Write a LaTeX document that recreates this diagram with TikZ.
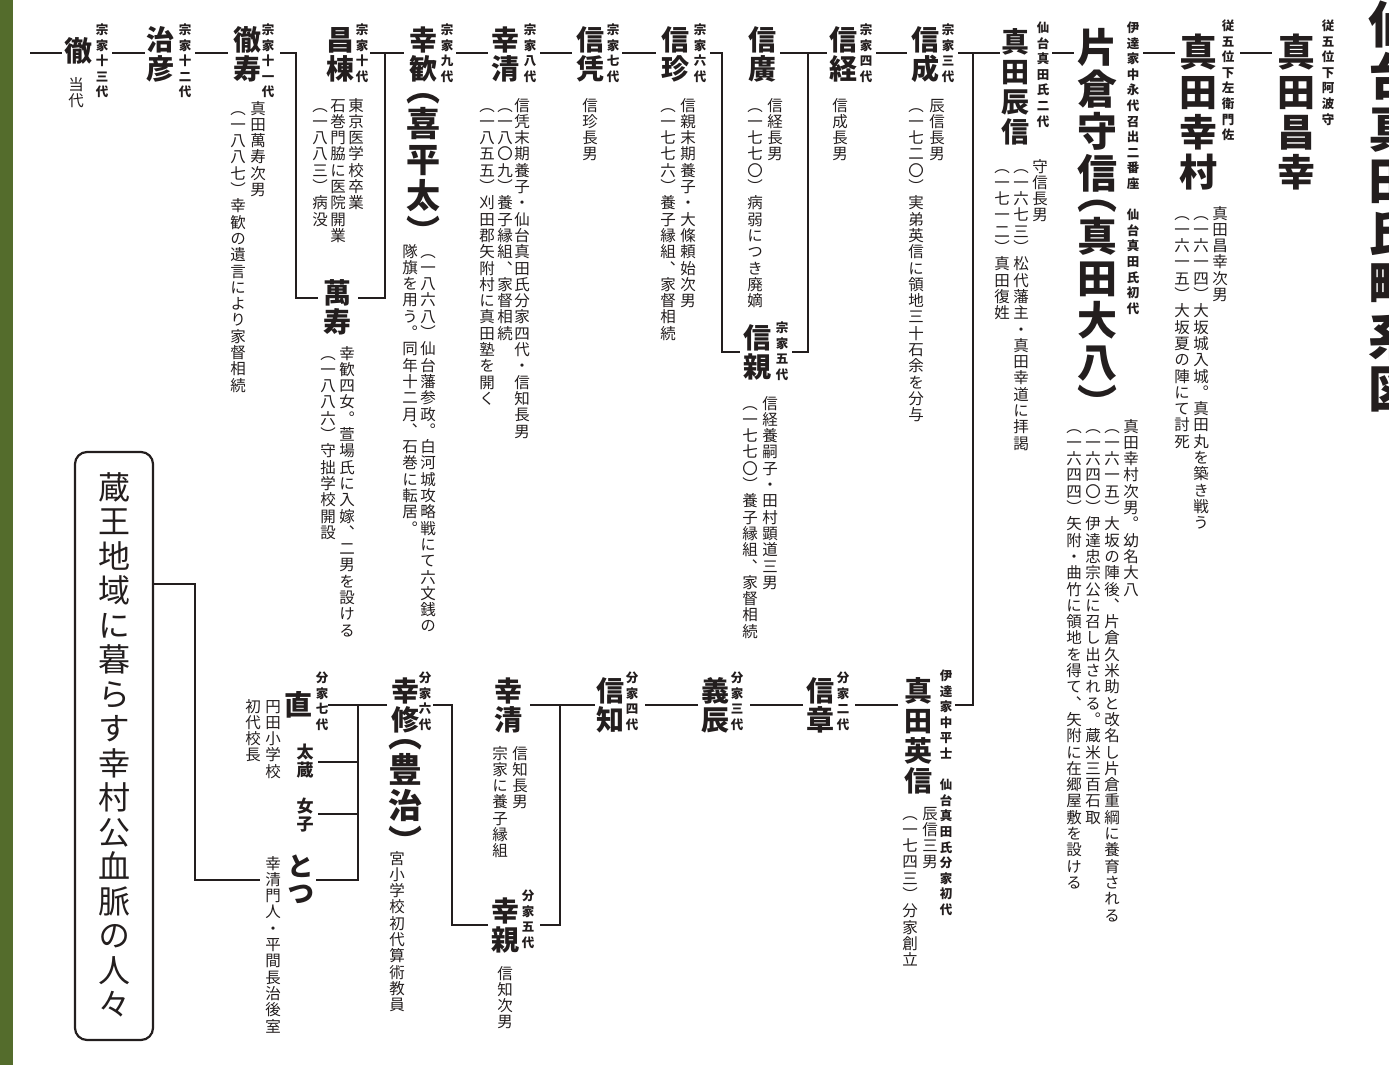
\documentclass[tikz,border=0pt]{standalone}
\usepackage{fontspec}
\newfontfamily\jpn[RawFeature=+vert]{Noto Sans CJK JP}
\definecolor{ink}{RGB}{35,30,30}
\definecolor{bargreen}{RGB}{84,108,44}
\makeatletter
\def\tate@lp{（}
\def\tate@rp{）}
\newif\iftate@half
\def\tate@put#1#2{%
  \hbox to 0pt{\hss\vrule height #1 depth 0pt width 0pt
    \raise\dimexpr #1/2-#2\relax\hbox{\smash{\tate@c}}\hss}}
\def\tate@cell#1{%
  \iftate@half
    \ifx\tate@c\tate@lp \tate@put{\dimexpr#1/2\relax}{0.13em}%
    \else\ifx\tate@c\tate@rp \tate@put{\dimexpr#1/2\relax}{0.63em}%
    \else\tate@put{#1}{0.38em}\fi\fi
  \else\tate@put{#1}{0.38em}\fi}
\newcommand\tcol[3]{\vbox{\offinterlineskip#1\@tfor\tate@c:=#3\do{\tate@cell{#2}}}}
\newcommand\tcolh[3]{\vbox{\offinterlineskip\tate@halftrue#1\@tfor\tate@c:=#3\do{\tate@cell{#2}}}}
\makeatother
\newcommand\FN[1]{\tcolh{\jpn\bfseries\fontsize{28}{28}\selectfont}{29pt}{#1}}
\newcommand\FB[1]{\tcolh{\jpn\bfseries\fontsize{38}{38}\selectfont}{40pt}{#1}}
\newcommand\FBB[1]{\tcolh{\jpn\bfseries\fontsize{40}{40}\selectfont}{42pt}{#1}}
\newcommand\FS[1]{\tcolh{\jpn\bfseries\fontsize{28}{28}\selectfont}{30pt}{#1}}
\newcommand\FP[1]{\tcolh{\jpn\bfseries\fontsize{34}{34}\selectfont}{36pt}{#1}}
\newcommand\LB[1]{\tcol{\jpn\bfseries\fontsize{12.5}{12.5}\selectfont}{15.6pt}{#1}}
\newcommand\NT[1]{\tcol{\jpn\fontsize{15.5}{15.5}\selectfont}{16.3pt}{#1}}
\tikzset{
  vc/.style={anchor=north, inner sep=0pt, outer sep=0pt, text=ink},
  conn/.style={draw=ink, line width=2.3pt}
}
\begin{document}
\begin{tikzpicture}[x=1pt,y=-1pt]
\useasboundingbox (0,0) rectangle (1389,1065);
\fill[bargreen] (0,0) rectangle (13,1065);
% title
\node[vc] (title) at (1393,-2) {\tcol{\jpn\bfseries\fontsize{50}{50}\selectfont}{52pt}{仙台真田氏略系図}};
% ---------- top row ----------
\node[vc] (masayuki) at (1296,32) {\FB{真田昌幸}};
\node[vc] (masayukiL) at (1328,18) {\LB{従五位下阿波守}};
\node[vc] (yukimura) at (1198,32) {\FB{真田幸村}};
\node[vc] (yukimuraL) at (1228,18) {\LB{従五位下左衛門佐}};
\node[vc] (yukimuraN1) at (1220,205) {\NT{真田昌幸次男}};
\node[vc] (yukimuraN2) at (1201,205) {\NT{（一六一四）大坂城入城。真田丸を築き戦う}};
\node[vc] (yukimuraN3) at (1182,205) {\NT{（一六一五）大坂夏の陣にて討死}};
\node[vc] (morinobu) at (1097,26) {\FBB{片倉守信（真田大八）}};
\node[vc] (morinobuL) at (1133,20) {\LB{伊達家中永代召出二番座　仙台真田氏初代}};
\node[vc] (morinobuN1) at (1131,418) {\NT{真田幸村次男。幼名大八}};
\node[vc] (morinobuN2) at (1112,418) {\NT{（一六一五）大坂の陣後、片倉久米助と改名し片倉重綱に養育される}};
\node[vc] (morinobuN3) at (1093,418) {\NT{（一六四〇）伊達忠宗公に召し出される。蔵米三百石取}};
\node[vc] (morinobuN4) at (1074,418) {\NT{（一六四四）矢附・曲竹に領地を得て、矢附に在郷屋敷を設ける}};
\node[vc] (tatsunobu) at (1015,27) {\FS{真田辰信}};
\node[vc] (tatsunobuL) at (1043,20) {\LB{仙台真田氏二代}};
\node[vc] (tatsunobuN1) at (1040,158) {\NT{守信長男}};
\node[vc] (tatsunobuN2) at (1021,158) {\NT{（一六七三）松代藩主・真田幸道に拝謁}};
\node[vc] (tatsunobuN3) at (1002,158) {\NT{（一七一二）真田復姓}};
\node[vc] (nobushige) at (925,25) {\FN{信成}};
\node[vc] (nobushigeL) at (948,22) {\LB{宗家三代}};
\node[vc] (nobushigeN1) at (937,97) {\NT{辰信長男}};
\node[vc] (nobushigeN2) at (916,97) {\NT{（一七二〇）実弟英信に領地三十石余を分与}};
\node[vc] (nobutsune) at (843,25) {\FN{信経}};
\node[vc] (nobutsuneL) at (866,22) {\LB{宗家四代}};
\node[vc] (nobutsuneN) at (840,97) {\NT{信成長男}};
\node[vc] (nobuhiro) at (762,25) {\FN{信廣}};
\node[vc] (nobuhiroN1) at (775,97) {\NT{信経長男}};
\node[vc] (nobuhiroN2) at (755,97) {\NT{（一七七〇）病弱につき廃嫡}};
\node[vc] (nobuchika) at (757,323) {\FN{信親}};
\node[vc] (nobuchikaL) at (782,320) {\LB{宗家五代}};
\node[vc] (nobuchikaN1) at (770,395) {\NT{信経養嗣子・田村顕道三男}};
\node[vc] (nobuchikaN2) at (750,395) {\NT{（一七七〇）養子縁組、家督相続}};
\node[vc] (nobuyoshi) at (675,25) {\FN{信珍}};
\node[vc] (nobuyoshiL) at (700,22) {\LB{宗家六代}};
\node[vc] (nobuyoshiN1) at (688,97) {\NT{信親末期養子・大條頼始次男}};
\node[vc] (nobuyoshiN2) at (668,97) {\NT{（一七七六）養子縁組、家督相続}};
\node[vc] (nobuyori) at (590,25) {\FN{信凭}};
\node[vc] (nobuyoriL) at (613,22) {\LB{宗家七代}};
\node[vc] (nobuyoriN) at (590,97) {\NT{信珍長男}};
\node[vc] (kosei) at (505,25) {\FN{幸清}};
\node[vc] (koseiL) at (530,22) {\LB{宗家八代}};
\node[vc] (koseiN1) at (522,97) {\NT{信凭末期養子・仙台真田氏分家四代・信知長男}};
\node[vc] (koseiN2) at (505,97) {\NT{（一八〇九）養子縁組、家督相続}};
\node[vc] (koseiN3) at (487,97) {\NT{（一八五五）刈田郡矢附村に真田塾を開く}};
\node[vc] (koukan) at (423,25) {\FN{幸歓}};
\node[vc] (koukanP) at (423,88) {\FP{（喜平太）}};
\node[vc] (koukanL) at (447,22) {\LB{宗家九代}};
\node[vc] (koukanN1) at (428,243) {\NT{（一八六八）仙台藩参政。白河城攻略戦にて六文銭の}};
\node[vc] (koukanN2) at (410,243) {\NT{隊旗を用う。同年十二月、石巻に転居。}};
\node[vc] (masamune) at (340,25) {\FN{昌棟}};
\node[vc] (masamuneL) at (362,22) {\LB{宗家十代}};
\node[vc] (masamuneN1) at (356,97) {\NT{東京医学校卒業}};
\node[vc] (masamuneN2) at (338,97) {\NT{石巻門脇に医院開業}};
\node[vc] (masamuneN3) at (320,97) {\NT{（一八八三）病没}};
\node[vc] (manju) at (337,278) {\FN{萬寿}};
\node[vc] (manjuN1) at (347,345) {\NT{幸歓四女。萱場氏に入嫁、二男を設ける}};
\node[vc] (manjuN2) at (328,345) {\NT{（一八八六）守拙学校開設}};
\node[vc] (tetsuju) at (247,25) {\FN{徹寿}};
\node[vc] (tetsujuL) at (268,22) {\LB{宗家十一代}};
\node[vc] (tetsujuN1) at (258,100) {\NT{真田萬寿次男}};
\node[vc] (tetsujuN2) at (238,100) {\NT{（一八八七）幸歓の遺言により家督相続}};
\node[vc] (haruhiko) at (160,25) {\FN{治彦}};
\node[vc] (haruhikoL) at (185,22) {\LB{宗家十二代}};
\node[vc] (toru) at (78,36) {\FN{徹}};
\node[vc] (toruL) at (102,22) {\LB{宗家十三代}};
\node[vc] (toruN) at (76,76) {\NT{当代}};
% ---------- bottom row ----------
\node[vc] (hidenobu) at (918,676) {\FS{真田英信}};
\node[vc] (hidenobuL) at (946,668) {\LB{伊達家中平士　仙台真田氏分家初代}};
\node[vc] (hidenobuN1) at (930,805) {\NT{辰信三男}};
\node[vc] (hidenobuN2) at (910,805) {\NT{（一七四三）分家創立}};
\node[vc] (nobuaki) at (820,676) {\FN{信章}};
\node[vc] (nobuakiL) at (843,670) {\LB{分家二代}};
\node[vc] (yoshitoki) at (715,676) {\FN{義辰}};
\node[vc] (yoshitokiL) at (737,670) {\LB{分家三代}};
\node[vc] (nobutomo) at (610,676) {\FN{信知}};
\node[vc] (nobutomoL) at (632,670) {\LB{分家四代}};
\node[vc] (koseiB) at (508,676) {\FN{幸清}};
\node[vc] (koseiBN1) at (520,745) {\NT{信知長男}};
\node[vc] (koseiBN2) at (500,745) {\NT{宗家に養子縁組}};
\node[vc] (yukichika) at (505,896) {\FN{幸親}};
\node[vc] (yukichikaL) at (528,888) {\LB{分家五代}};
\node[vc] (yukichikaN) at (505,965) {\NT{信知次男}};
\node[vc] (yukinaga) at (405,676) {\FN{幸修}};
\node[vc] (yukinagaP) at (405,734) {\FP{（豊治）}};
\node[vc] (yukinagaL) at (425,670) {\LB{分家六代}};
\node[vc] (yukinagaN) at (397,850) {\NT{宮小学校初代算術教員}};
\node[vc] (nao) at (298,690) {\FN{直}};
\node[vc] (naoL) at (322,670) {\LB{分家七代}};
\node[vc] (naoN1) at (273,698) {\NT{円田小学校}};
\node[vc] (naoN2) at (253,698) {\NT{初代校長}};
\node[vc] (taizo) at (305,743) {\tcol{\jpn\bfseries\fontsize{17}{17}\selectfont}{18pt}{太蔵}};
\node[vc] (joshi) at (305,797) {\tcol{\jpn\bfseries\fontsize{17}{17}\selectfont}{18pt}{女子}};
\node[vc] (totsu) at (301,853) {\tcol{\jpn\bfseries\fontsize{27}{27}\selectfont}{27pt}{とつ}};
\node[vc] (totsuN) at (273,855) {\NT{幸清門人・平間長治後室}};
\node[draw=ink, line width=2.2pt, rounded corners=12pt, minimum width=78pt, minimum height=588pt, inner sep=0pt, text=ink] (zao) at (114,746) {\tcol{\jpn\fontsize{32}{32}\selectfont}{34.5pt}{蔵王地域に暮らす幸村公血脈の人々}};
% ---------- connector coordinates ----------
\coordinate (t0) at (30,53);
\coordinate (t1) at (62,53);   \coordinate (t2) at (112,53);
\coordinate (t3) at (145,53);  \coordinate (t4) at (195,53);
\coordinate (t5) at (228,53);  \coordinate (t6) at (280,53);
\coordinate (j1) at (296,53);  \coordinate (j1b) at (296,298); \coordinate (m1) at (318,298);
\coordinate (m2) at (358,298); \coordinate (j2b) at (385,298); \coordinate (j2) at (385,53);
\coordinate (t7) at (370,53);  \coordinate (t8) at (404,53);
\coordinate (t9) at (456,53);  \coordinate (t10) at (488,53);
\coordinate (t11) at (540,53); \coordinate (t12) at (572,53);
\coordinate (t13) at (622,53); \coordinate (t14) at (656,53);
\coordinate (t15) at (710,53); \coordinate (j3) at (722,53); \coordinate (j3b) at (722,352); \coordinate (c1) at (740,352);
\coordinate (c2) at (792,352); \coordinate (j4b) at (808,352); \coordinate (j4) at (808,53);
\coordinate (t16) at (780,53); \coordinate (t17) at (827,53);
\coordinate (t18) at (876,53); \coordinate (t19) at (907,53);
\coordinate (t20) at (958,53); \coordinate (j5) at (973,53); \coordinate (t21) at (1000,53);
\coordinate (j5b) at (973,705); \coordinate (b1) at (955,705);
\coordinate (t22) at (1052,53); \coordinate (t23) at (1074,53);
\coordinate (t24) at (1143,53); \coordinate (t25) at (1175,53);
\coordinate (t26) at (1240,53); \coordinate (t27) at (1272,53);
\coordinate (b2) at (898,705); \coordinate (b3) at (855,705);
\coordinate (b4) at (803,705); \coordinate (b5) at (750,705);
\coordinate (b6) at (698,705); \coordinate (b7) at (645,705);
\coordinate (b8) at (595,705); \coordinate (j6) at (560,705); \coordinate (b9) at (530,705);
\coordinate (j6b) at (560,925); \coordinate (b10) at (540,925);
\coordinate (b11) at (488,925); \coordinate (j7b) at (452,925); \coordinate (j7) at (452,705); \coordinate (b12) at (433,705);
\coordinate (b13) at (387,705); \coordinate (j8) at (358,705); \coordinate (b14) at (328,705);
\coordinate (j8a) at (358,762); \coordinate (b15) at (318,762);
\coordinate (j8b) at (358,814); \coordinate (b16) at (318,814);
\coordinate (j8c) at (358,880); \coordinate (b17) at (316,880);
\coordinate (z1) at (153,584); \coordinate (z2) at (195,584); \coordinate (z3) at (195,880); \coordinate (z4) at (260,880);
% ---------- connectors ----------
\draw[conn] (t0) -- (t1);
\draw[conn] (t2) -- (t3);
\draw[conn] (t4) -- (t5);
\draw[conn] (t6) -- (j1) -- (j1b) -- (m1);
\draw[conn] (t7) -- (j2) -- (j2b) -- (m2);
\draw[conn] (j2) -- (t8);
\draw[conn] (t9) -- (t10);
\draw[conn] (t11) -- (t12);
\draw[conn] (t13) -- (t14);
\draw[conn] (t15) -- (j3) -- (j3b) -- (c1);
\draw[conn] (t16) -- (j4) -- (j4b) -- (c2);
\draw[conn] (j4) -- (t17);
\draw[conn] (t18) -- (t19);
\draw[conn] (t20) -- (t21);
\draw[conn] (j5) -- (j5b) -- (b1);
\draw[conn] (t22) -- (t23);
\draw[conn] (t24) -- (t25);
\draw[conn] (t26) -- (t27);
\draw[conn] (b2) -- (b3);
\draw[conn] (b4) -- (b5);
\draw[conn] (b6) -- (b7);
\draw[conn] (b8) -- (b9);
\draw[conn] (j6) -- (j6b) -- (b10);
\draw[conn] (b11) -- (j7b) -- (j7) -- (b12);
\draw[conn] (b13) -- (b14);
\draw[conn] (j8) -- (j8c) -- (b17);
\draw[conn] (j8a) -- (b15);
\draw[conn] (j8b) -- (b16);
\draw[conn] (z1) -- (z2) -- (z3) -- (z4);
\end{tikzpicture}
\end{document}
